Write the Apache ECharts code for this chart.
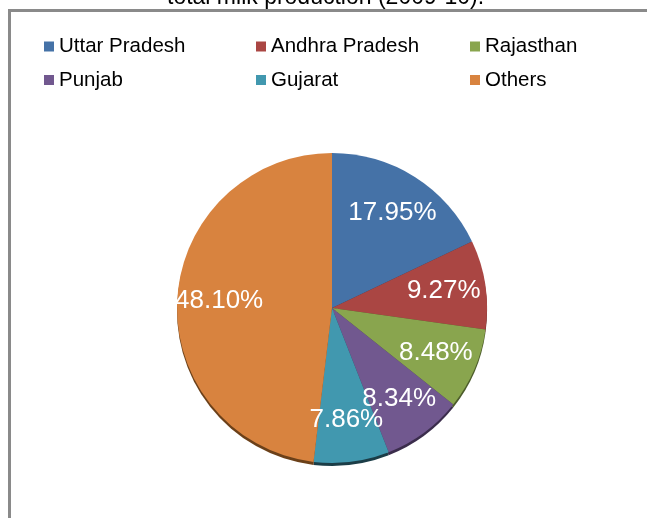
<!DOCTYPE html>
<html>
<head>
<meta charset="utf-8">
<script src="https://cdn.jsdelivr.net/npm/echarts@6/dist/echarts.min.js"></script>
<style>html,body{margin:0;padding:0;background:#fff;}#c{width:647px;height:518px;}</style>
</head>
<body>
<div id="c"></div>
<script>
var titleText = 'total milk production (2009-10).';
var categories = ['Uttar Pradesh', 'Andhra Pradesh', 'Rajasthan', 'Punjab', 'Gujarat', 'Others'];
var values = [17.95, 9.27, 8.48, 8.34, 7.86, 48.10];
var colors = ['#4572A7', '#AA4643', '#89A54E', '#71588F', '#4198AF', '#D8833F'];
var darkColors = ['#263f5e', '#5e2624', '#4c5c2b', '#3b2d4c', '#1b3d47', '#6b4019'];

var FONT = '"Liberation Sans", Arial, sans-serif';
var CX = 332, CY = 308, R = 155;

var data = categories.map(function (n, i) { return { name: n, value: values[i] }; });

var chart = echarts.init(document.getElementById('c'), null, { renderer: 'canvas' });
function legendCol(left, names) {
  return {
    orient: 'vertical', left: left, top: 31, data: names,
    icon: 'rect', itemWidth: 10, itemHeight: 10, itemGap: 12.5,
    textStyle: { fontFamily: FONT, fontSize: 20.5, color: '#000' },
    selectedMode: false
  };
}
chart.setOption({
  animation: false,
  backgroundColor: '#fff',
  color: colors,
  title: {
    text: titleText, left: 162, top: -19,
    textStyle: { fontFamily: FONT, fontSize: 23, fontWeight: 'normal', color: '#000' }
  },
  graphic: [{
    type: 'rect', shape: { x: 9.5, y: 10.5, width: 700, height: 600 },
    style: { fill: null, stroke: '#8a8a8a', lineWidth: 3 }, z: 100, silent: true
  }],
  legend: [
    legendCol(39, [categories[0], categories[3]]),
    legendCol(251, [categories[1], categories[4]]),
    legendCol(465, [categories[2], categories[5]])
  ],
  series: [
    {
      type: 'pie', name: 'pie', center: [CX, CY], radius: [0, R],
      startAngle: 90, clockwise: true, z: 2,
      data: data,
      itemStyle: { borderWidth: 0 },
      label: { show: false }, labelLine: { show: false }
    },
    {
      type: 'pie', name: 'base', center: [CX, CY + 3], radius: [0, R],
      startAngle: 90, clockwise: true, silent: true, z: 1,
      data: data.map(function (d, i) { return { name: d.name, value: d.value, itemStyle: { color: darkColors[i] } }; }),
      label: { show: false }, labelLine: { show: false }
    },
    {
      type: 'pie', name: 'labels', center: [CX, CY], radius: [R * 0.42, R],
      startAngle: 90, clockwise: true, silent: true, z: 3,
      avoidLabelOverlap: false,
      data: data,
      itemStyle: { color: 'rgba(0,0,0,0)' },
      label: {
        show: true, position: 'inside',
        formatter: function (p) { return p.value.toFixed(2) + '%'; },
        fontFamily: FONT, fontSize: 26, color: '#fff'
      },
      labelLayout: { hideOverlap: false },
      labelLine: { show: false }
    }
  ]
});
</script>
</body>
</html>
